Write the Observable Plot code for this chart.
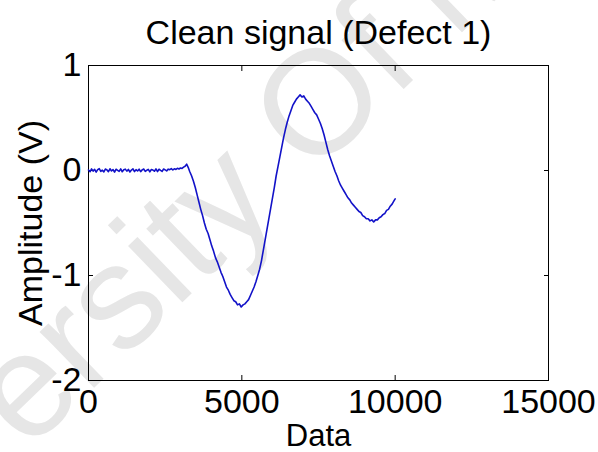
<!DOCTYPE html>
<html>
<head>
<meta charset="utf-8">
<script src="https://cdn.jsdelivr.net/npm/d3@7"></script>
<script src="https://cdn.jsdelivr.net/npm/@observablehq/plot@0.6"></script>
<style>
  html, body { margin: 0; padding: 0; background: white; }
  #wrap { position: relative; width: 598px; height: 452px; overflow: hidden; background: white; }
  #wm { position: absolute; left: 0; top: 0; z-index: 0; white-space: nowrap;
        font-family: "Liberation Sans", Arial, sans-serif; font-size: 148px; color: #e6e6e6;
        transform-origin: 0 0; }
  #chart { position: absolute; left: 0; top: 0; z-index: 1; }
</style>
</head>
<body>
<div id="wrap">
  <div id="wm">University Of Malaya</div>
  <div id="chart"></div>
</div>
<script>
const title = "Clean signal (Defect 1)";
const xLabel = "Data";
const yLabel = "Amplitude (V)";
const xTicks = [0, 5000, 10000, 15000];
const yTicks = [-2, -1, 0, 1];

// Pre-defect baseline
const baselineX = [
  0, 50, 100, 150, 200, 250, 300, 350,
  400, 450, 500, 550, 600, 650, 700, 750,
  800, 850, 900, 950, 1000, 1050, 1100, 1150,
  1200, 1250, 1300, 1350, 1400, 1450, 1500, 1550,
  1600, 1650, 1700, 1750, 1800, 1850, 1900, 1950,
  2000, 2050, 2100, 2150, 2200, 2250, 2300, 2350,
  2400, 2450, 2500, 2550, 2600, 2650, 2700, 2750,
  2800, 2850, 2900, 2950, 3000, 3050, 3100, 3150
];
const baselineY = [
  0.004, -0.012, 0.015, -0.006, 0.011, -0.015, 0.008, 0.017,
  -0.009, 0.003, -0.013, 0.014, 0.006, -0.011, 0.016, -0.004,
  0.009, -0.016, 0.012, 0.002, -0.008, 0.015, -0.012, 0.007,
  0.013, -0.006, 0.010, -0.014, 0.004, 0.016, -0.010, 0.008,
  -0.005, 0.013, -0.011, 0.006, 0.014, -0.008, 0.002, 0.011,
  -0.013, 0.009, 0.004, -0.007, 0.015, -0.010, 0.012, 0.001,
  -0.009, 0.014, 0.006, -0.004, 0.013, 0.008, 0.018, 0.005,
  0.016, 0.010, 0.021, 0.014, 0.024, 0.020, 0.032, 0.041
];

// Defect wave
const waveX = [
  3200, 3250, 3300, 3360, 3420, 3480, 3540, 3600, 3660, 3720, 3780, 3840, 3900, 3960,
  4020, 4080, 4140, 4200, 4260, 4320, 4380, 4440, 4500, 4560, 4620, 4680, 4740, 4800,
  4860, 4920, 4980, 5040, 5100, 5160, 5220, 5280, 5340, 5400, 5460, 5520, 5580, 5640,
  5700, 5760, 5820, 5880, 5940, 6000, 6060, 6120, 6180, 6240, 6300, 6360, 6420, 6480,
  6540, 6600, 6660, 6720, 6780, 6840, 6900, 6960, 7020, 7080, 7140, 7200, 7260, 7320,
  7380, 7440, 7500, 7560, 7620, 7680, 7740, 7800, 7860, 7920, 7980, 8040, 8100, 8160,
  8220, 8280, 8340, 8400, 8460, 8520, 8580, 8640, 8700, 8760, 8820, 8880, 8940, 9000,
  9060, 9120, 9180, 9240, 9300, 9360, 9420, 9480, 9540, 9600, 9660, 9720, 9780, 9840,
  9900, 9960, 10000
];
const waveY = [
  0.06, 0.03, -0.01, -0.05, -0.10, -0.16, -0.23, -0.30, -0.37, -0.43, -0.50, -0.56, -0.60, -0.66,
  -0.72, -0.77, -0.83, -0.87, -0.92, -0.97, -1.01, -1.06, -1.11, -1.14, -1.18, -1.21, -1.24, -1.25,
  -1.28, -1.27, -1.30, -1.28, -1.27, -1.25, -1.23, -1.19, -1.15, -1.11, -1.06, -1.00, -0.94, -0.86,
  -0.76, -0.66, -0.56, -0.46, -0.36, -0.26, -0.16, -0.05, 0.04, 0.13, 0.22, 0.31, 0.39, 0.46,
  0.52, 0.57, 0.62, 0.65, 0.68, 0.70, 0.72, 0.70, 0.71, 0.68, 0.66, 0.64, 0.61, 0.58,
  0.55, 0.53, 0.49, 0.45, 0.40, 0.34, 0.27, 0.20, 0.14, 0.09, 0.04, -0.01, -0.05, -0.10,
  -0.14, -0.17, -0.20, -0.23, -0.26, -0.28, -0.31, -0.33, -0.35, -0.37, -0.39, -0.40, -0.43, -0.44,
  -0.46, -0.46, -0.48, -0.47, -0.49, -0.47, -0.47, -0.45, -0.44, -0.42, -0.41, -0.38, -0.37, -0.34,
  -0.32, -0.29, -0.27
];

const data = baselineX.map((x, i) => ({x, y: baselineY[i]}))
  .concat(waveX.map((x, i) => ({x, y: waveY[i]})));

const font = "'Liberation Sans', Arial, Helvetica, sans-serif";

const chart = Plot.plot({
  width: 598,
  height: 452,
  marginTop: 65,
  marginBottom: 72,
  marginLeft: 88,
  marginRight: 50,
  style: {background: "transparent", fontFamily: font, fontSize: "34px", color: "black", overflow: "visible"},
  x: {domain: [0, 15000]},
  y: {domain: [-2, 1]},
  marks: [
    Plot.frame({stroke: "black", strokeWidth: 1}),
    // inward ticks on all four sides
    Plot.axisX(xTicks, {anchor: "bottom", tickSize: -5, tickFormat: () => "", label: null}),
    Plot.axisX(xTicks, {anchor: "top", tickSize: -5, tickFormat: () => "", label: null}),
    Plot.axisY(yTicks, {anchor: "left", tickSize: -5, tickFormat: () => "", label: null}),
    Plot.axisY(yTicks, {anchor: "right", tickSize: -5, tickFormat: () => "", label: null}),
    // tick labels
    Plot.axisX(xTicks, {anchor: "bottom", tickSize: 0, tickPadding: 8, fontSize: 34, label: null, tickFormat: d => String(d)}),
    Plot.axisY(yTicks, {anchor: "left", tickSize: 0, tickPadding: 7, fontSize: 34, label: null, tickFormat: d => String(d)}),
    Plot.line(data, {x: "x", y: "y", stroke: "#1212c8", strokeWidth: 1.6}),
    Plot.text([title], {text: d => d, frameAnchor: "top", textAnchor: "middle", lineAnchor: "middle", dy: -32, fontSize: 34, fill: "black"}),
    Plot.text([xLabel], {text: d => d, frameAnchor: "bottom", textAnchor: "middle", lineAnchor: "middle", dy: 56, fontSize: 31, fill: "black"}),
    Plot.text([yLabel], {text: d => d, frameAnchor: "left", textAnchor: "middle", lineAnchor: "middle", dx: -57, rotate: -90, fontSize: 34, fill: "black"})
  ]
});
document.getElementById("chart").appendChild(chart);

// watermark placement
document.getElementById("wm").style.transform = "translate(-280px, 560px) rotate(-44deg)";
</script>
</body>
</html>
